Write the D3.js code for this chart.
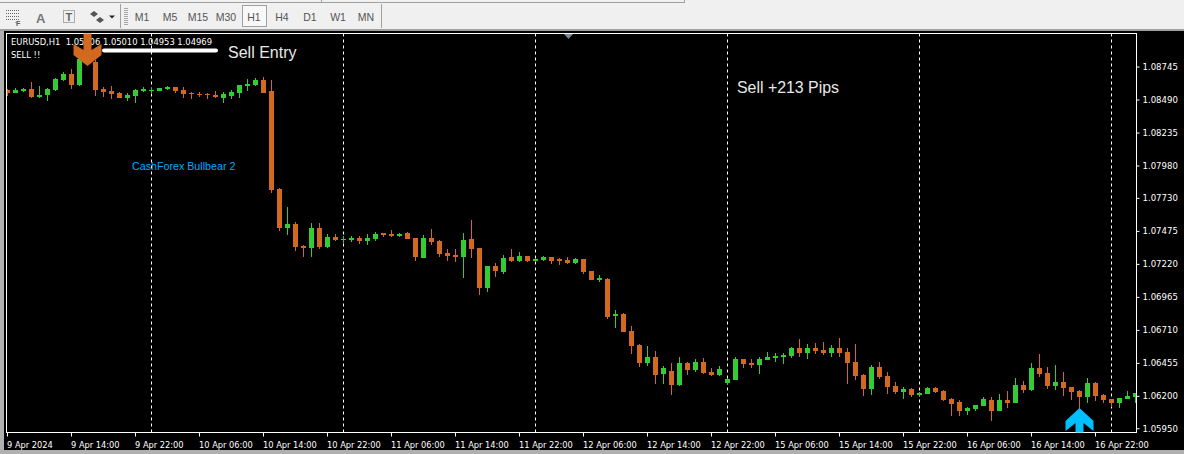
<!DOCTYPE html>
<html>
<head>
<meta charset="utf-8">
<script src="https://cdn.jsdelivr.net/npm/d3@7"></script>
<style>
  html, body { margin: 0; padding: 0; background: #f0f0f0; overflow: hidden; }
  svg { display: block; }
  text { white-space: pre; }
  .mt { font-family: "DejaVu Sans Condensed", "DejaVu Sans"; font-stretch: condensed; font-size: 9.3px; fill: #fff; }
  .axis path { display: none; }
  .axis line { stroke: #fff; }
  .axis text { font-family: "DejaVu Sans Condensed", "DejaVu Sans"; font-stretch: condensed; font-size: 9.5px; fill: #fff; }
  .xaxis text { font-size: 9.2px; }
  .tf { font-family: "Liberation Sans"; font-size: 10.5px; fill: #555; text-anchor: middle; }
</style>
</head>
<body>
<svg id="chart" width="1184" height="454"></svg>
<script>
// EURUSD H1 candles
const opens = [1.08564,1.08540,1.08556,1.08571,1.08509,1.08525,1.08564,1.08641,1.08687,1.08602,
  1.08888,1.08780,1.08571,1.08556,1.08540,1.08502,1.08517,1.08556,1.08556,1.08556,
  1.08571,1.08587,1.08564,1.08540,1.08533,1.08533,1.08525,1.08502,1.08517,1.08540,
  1.08594,1.08602,1.08641,1.08556,1.07799,1.07497,1.07528,1.07358,1.07342,1.07497,
  1.07350,1.07428,1.07404,1.07404,1.07420,1.07396,1.07412,1.07459,1.07451,1.07436,
  1.07459,1.07420,1.07265,1.07420,1.07396,1.07304,1.07288,1.07273,1.07412,1.07342,
  1.07033,1.07203,1.07157,1.07273,1.07242,1.07281,1.07242,1.07250,1.07273,1.07258,
  1.07250,1.07227,1.07258,1.07165,1.07095,1.07103,1.06817,1.06833,1.06701,1.06593,
  1.06454,1.06500,1.06369,1.06392,1.06284,1.06454,1.06400,1.06462,1.06385,1.06361,
  1.06300,1.06323,1.06485,1.06454,1.06439,1.06477,1.06493,1.06500,1.06508,1.06570,
  1.06531,1.06570,1.06555,1.06531,1.06570,1.06539,1.06462,1.06361,1.06253,1.06423,
  1.06354,1.06277,1.06230,1.06253,1.06207,1.06215,1.06261,1.06238,1.06176,1.06153,
  1.06083,1.06099,1.06122,1.06168,1.06083,1.06168,1.06145,1.06284,1.06246,1.06415,
  1.06377,1.06277,1.06307,1.06269,1.06238,1.06191,1.06300,1.06207,1.06176,1.06145,
  1.06176,1.06191];
const highs = [1.08571,1.08579,1.08579,1.08625,1.08594,1.08579,1.08656,1.08703,1.08726,1.08819,
  1.08950,1.08795,1.08587,1.08594,1.08548,1.08540,1.08571,1.08587,1.08579,1.08579,
  1.08594,1.08587,1.08587,1.08548,1.08548,1.08540,1.08556,1.08548,1.08564,1.08602,
  1.08649,1.08656,1.08664,1.08641,1.07806,1.07660,1.07544,1.07365,1.07536,1.07536,
  1.07451,1.07451,1.07436,1.07436,1.07436,1.07451,1.07467,1.07459,1.07482,1.07459,
  1.07467,1.07420,1.07443,1.07490,1.07404,1.07335,1.07335,1.07459,1.07559,1.07342,
  1.07203,1.07227,1.07288,1.07335,1.07312,1.07281,1.07265,1.07281,1.07273,1.07265,
  1.07273,1.07265,1.07258,1.07165,1.07134,1.07111,1.06864,1.06841,1.06740,1.06601,
  1.06586,1.06547,1.06431,1.06454,1.06500,1.06462,1.06485,1.06493,1.06415,1.06431,
  1.06338,1.06500,1.06485,1.06485,1.06500,1.06539,1.06531,1.06531,1.06578,1.06640,
  1.06601,1.06609,1.06617,1.06593,1.06648,1.06570,1.06601,1.06369,1.06439,1.06462,
  1.06385,1.06307,1.06269,1.06261,1.06230,1.06269,1.06269,1.06246,1.06184,1.06168,
  1.06114,1.06130,1.06191,1.06191,1.06215,1.06238,1.06338,1.06315,1.06454,1.06524,
  1.06423,1.06439,1.06385,1.06269,1.06246,1.06338,1.06307,1.06215,1.06176,1.06184,
  1.06238,1.06222];
const lows = [1.08517,1.08540,1.08548,1.08502,1.08502,1.08479,1.08556,1.08633,1.08571,1.08594,
  1.08764,1.08517,1.08509,1.08494,1.08502,1.08479,1.08463,1.08548,1.08540,1.08556,
  1.08564,1.08540,1.08502,1.08494,1.08509,1.08494,1.08502,1.08463,1.08494,1.08502,
  1.08556,1.08594,1.08540,1.07768,1.07474,1.07443,1.07319,1.07273,1.07273,1.07335,
  1.07342,1.07396,1.07381,1.07389,1.07373,1.07365,1.07396,1.07428,1.07428,1.07428,
  1.07412,1.07242,1.07265,1.07365,1.07273,1.07242,1.07234,1.07111,1.07265,1.06979,
  1.07003,1.07119,1.07142,1.07234,1.07234,1.07234,1.07234,1.07242,1.07219,1.07211,
  1.07219,1.07219,1.07142,1.07095,1.07080,1.06794,1.06724,1.06694,1.06524,1.06423,
  1.06431,1.06292,1.06292,1.06207,1.06277,1.06361,1.06385,1.06369,1.06354,1.06354,
  1.06284,1.06323,1.06415,1.06415,1.06369,1.06477,1.06462,1.06446,1.06493,1.06500,
  1.06485,1.06524,1.06516,1.06500,1.06500,1.06292,1.06323,1.06200,1.06207,1.06331,
  1.06215,1.06215,1.06176,1.06191,1.06200,1.06215,1.06222,1.06160,1.06045,1.06045,
  1.06053,1.06083,1.06122,1.06006,1.06083,1.06106,1.06145,1.06222,1.06238,1.06346,
  1.06253,1.06246,1.06200,1.06168,1.06091,1.06145,1.06160,1.06145,1.06114,1.06106,
  1.06176,1.06145];
const closes = [1.08540,1.08564,1.08571,1.08509,1.08525,1.08571,1.08649,1.08687,1.08602,1.08803,
  1.08795,1.08564,1.08548,1.08533,1.08502,1.08525,1.08564,1.08571,1.08564,1.08579,
  1.08587,1.08556,1.08533,1.08533,1.08525,1.08525,1.08509,1.08533,1.08548,1.08602,
  1.08610,1.08641,1.08540,1.07791,1.07497,1.07528,1.07350,1.07342,1.07497,1.07350,
  1.07428,1.07404,1.07412,1.07420,1.07396,1.07420,1.07451,1.07443,1.07436,1.07451,
  1.07412,1.07273,1.07420,1.07389,1.07296,1.07281,1.07273,1.07404,1.07335,1.07033,
  1.07203,1.07165,1.07265,1.07242,1.07281,1.07242,1.07258,1.07273,1.07242,1.07242,
  1.07227,1.07258,1.07157,1.07095,1.07111,1.06809,1.06833,1.06694,1.06586,1.06454,
  1.06500,1.06361,1.06415,1.06284,1.06454,1.06400,1.06462,1.06377,1.06361,1.06408,
  1.06331,1.06485,1.06446,1.06439,1.06485,1.06500,1.06508,1.06516,1.06570,1.06531,
  1.06570,1.06547,1.06531,1.06570,1.06531,1.06454,1.06354,1.06253,1.06423,1.06346,
  1.06269,1.06230,1.06253,1.06207,1.06222,1.06261,1.06230,1.06168,1.06137,1.06083,
  1.06106,1.06130,1.06176,1.06083,1.06168,1.06145,1.06284,1.06246,1.06415,1.06369,
  1.06277,1.06307,1.06261,1.06230,1.06191,1.06300,1.06200,1.06168,1.06145,1.06184,
  1.06200,1.06222];

const priceTicks = [1.08745,1.08490,1.08235,1.07980,1.07730,1.07475,1.07220,1.06965,1.06710,1.06455,1.06200,1.05950];
const timeLabels = ["9 Apr 2024","9 Apr 14:00","9 Apr 22:00","10 Apr 06:00","10 Apr 14:00","10 Apr 22:00",
  "11 Apr 06:00","11 Apr 14:00","11 Apr 22:00","12 Apr 06:00","12 Apr 14:00","12 Apr 22:00",
  "15 Apr 06:00","15 Apr 14:00","15 Apr 22:00","16 Apr 06:00","16 Apr 14:00","16 Apr 22:00"];
const timeTickBars = d3.range(0, 137, 8);
const separatorBars = [18, 42, 66, 90, 114, 138];
const timeframes = ["M1","M5","M15","M30","H1","H4","D1","W1","MN"];
const sellBar = 10, sellPrice = 1.08749;
const buyBar = 134, buyPrice = 1.06106;

const colUp = "#32cd32", colDown = "#d2691e", colBuy = "#00bfff";

const svg = d3.select("#chart");
const frame = {left: 6.5, top: 33.5, right: 1136.5, bottom: 432.5};

const x = d3.scaleLinear().domain([0, 141]).range([7.5, 1135.5]);
const y = d3.scaleLinear().domain([1.09259, 1.09259 - 0.00007727 * 454]).range([0, 454]);

// toolbar
const bar = svg.append("g");
bar.append("rect").attr("width", 1184).attr("height", 31).attr("fill", "#f0f0f0");
bar.append("rect").attr("x", 0).attr("y", 29).attr("width", 1184).attr("height", 2).attr("fill", "#a0a0a0");
bar.append("rect").attr("x", 0).attr("y", 2).attr("width", 684).attr("height", 1).attr("fill", "#a0a0a0");
bar.append("rect").attr("x", 684).attr("y", 0).attr("width", 1).attr("height", 3).attr("fill", "#a0a0a0");
bar.append("rect").attr("x", 321).attr("y", 0).attr("width", 1).attr("height", 3).attr("fill", "#a0a0a0");
[120, 381].forEach(sx => {
  bar.append("rect").attr("x", sx).attr("y", 4).attr("width", 1).attr("height", 24).attr("fill", "#a0a0a0");
});
d3.range(8, 26, 2).forEach(gy => {
  bar.append("rect").attr("x", 124).attr("y", gy).attr("width", 4).attr("height", 1).attr("fill", "#a8a8a8");
});
bar.append("rect").attr("x", 242.5).attr("y", 5.5).attr("width", 24).attr("height", 21)
  .attr("fill", "#f8f8f8").attr("stroke", "#a0a0a0");
bar.selectAll("text.tf").data(timeframes).join("text")
  .attr("class", "tf")
  .attr("x", (d, i) => 142 + i * 28)
  .attr("y", 21)
  .text(d => d);

// left toolbar icons
const icons = bar.append("g").attr("fill", "none").attr("stroke", "#666");
[10.5, 13.5, 16.5, 19.5].forEach(gy => {
  icons.append("line").attr("x1", 6).attr("x2", 20).attr("y1", gy).attr("y2", gy).attr("stroke-dasharray", "1 1");
});
icons.append("line").attr("x1", 16).attr("x2", 16).attr("y1", 22).attr("y2", 23).attr("stroke", "#666");
icons.append("rect").attr("x", 63.5).attr("y", 10.5).attr("width", 11).attr("height", 12).attr("stroke-dasharray", "1 1");
bar.append("text").attr("x", 16).attr("y", 26).attr("font-family", "Liberation Sans").attr("font-size", 7).attr("font-weight", "bold").attr("fill", "#555").text("F");
bar.append("text").attr("x", 36).attr("y", 22.5).attr("font-family", "Liberation Sans").attr("font-size", 13).attr("font-weight", "bold").attr("fill", "#777").text("A");
bar.append("text").attr("x", 65.5).attr("y", 21).attr("font-family", "Liberation Sans").attr("font-size", 11).attr("font-weight", "bold").attr("fill", "#666").text("T");
bar.append("path").attr("d", "M90 14l4-3 4 3-4 3zM96 20l4-3 4 3-4 3z").attr("fill", "#555");
bar.append("path").attr("d", "M109 15.5h6l-3 3z").attr("fill", "#222");

// chart background
svg.append("rect").attr("x", 0).attr("y", 31).attr("width", 1184).attr("height", 423).attr("fill", "#b0b0b0");
svg.append("rect").attr("x", 4).attr("y", 31).attr("width", 1180).attr("height", 419).attr("fill", "#000");

svg.append("defs").append("clipPath").attr("id", "plot").append("rect")
  .attr("x", frame.left).attr("y", frame.top)
  .attr("width", frame.right - frame.left).attr("height", frame.bottom - frame.top);

const plot = svg.append("g").attr("clip-path", "url(#plot)");

// period separators
plot.selectAll("line.sep").data(separatorBars).join("line")
  .attr("class", "sep")
  .attr("x1", d => x(d)).attr("x2", d => x(d))
  .attr("y1", frame.top).attr("y2", frame.bottom)
  .attr("stroke", "#fff").attr("stroke-dasharray", "3 3");

// candles
const bars = d3.range(opens.length);
const colOf = i => closes[i] >= opens[i] ? colUp : colDown;
plot.append("g").attr("shape-rendering", "crispEdges").selectAll("rect").data(bars).join("rect")
  .attr("x", i => x(i) - 0.5)
  .attr("width", 1)
  .attr("y", i => Math.round(y(highs[i])))
  .attr("height", i => Math.round(y(lows[i])) - Math.round(y(highs[i])))
  .attr("fill", colOf);
plot.append("g").attr("shape-rendering", "crispEdges").selectAll("rect").data(bars).join("rect")
  .attr("x", i => x(i) - 2.5)
  .attr("width", 5)
  .attr("y", i => Math.round(y(Math.max(opens[i], closes[i]))))
  .attr("height", i => Math.max(1, Math.round(y(Math.min(opens[i], closes[i]))) - Math.round(y(Math.max(opens[i], closes[i])))))
  .attr("fill", colOf);

// frame
svg.append("rect")
  .attr("x", frame.left).attr("y", frame.top)
  .attr("width", frame.right - frame.left).attr("height", frame.bottom - frame.top)
  .attr("fill", "none").attr("stroke", "#fff");

// little marker on the top edge
svg.append("path").attr("d", "M564 34h9l-4.5 5z").attr("fill", "#778899");

// axes
const yAxis = d3.axisRight(y).tickValues(priceTicks).tickSize(3).tickPadding(3).tickFormat(d3.format(".5f"));
svg.append("g").attr("class", "axis").attr("transform", `translate(${frame.right},0)`).call(yAxis);

const xAxis = d3.axisBottom(x).tickValues(timeTickBars).tickSize(4).tickPadding(5)
  .tickFormat((d, i) => timeLabels[i]);
const xg = svg.append("g").attr("class", "axis xaxis").attr("transform", `translate(-0.5,${frame.bottom})`).call(xAxis);
xg.selectAll("text").attr("text-anchor", "start").attr("dx", "-0.5");

// labels on the chart
svg.append("text").attr("class", "mt").attr("x", 11).attr("y", 45).text("EURUSD,H1  1.05006 1.05010 1.04953 1.04969");
svg.append("text").attr("class", "mt").attr("x", 11).attr("y", 57.5).text("SELL !!");
svg.append("text").attr("x", 132).attr("y", 169.5).attr("font-family", "Liberation Sans").attr("font-size", 10.7)
  .attr("fill", "#00aaff").text("CashForex Bullbear 2");
svg.append("text").attr("x", 228).attr("y", 58).attr("font-family", "Liberation Sans").attr("font-size", 16)
  .attr("fill", "#e8e8e8").text("Sell Entry");
svg.append("text").attr("x", 737).attr("y", 93).attr("font-family", "Liberation Sans").attr("font-size", 15.9)
  .attr("fill", "#e8e8e8").text("Sell +213 Pips");

// sell entry line
svg.append("line").attr("x1", x(12) + 0.5).attr("x2", x(26) + 0.5).attr("y1", 50.5).attr("y2", 50.5)
  .attr("stroke", "#fff").attr("stroke-width", 4).attr("stroke-linecap", "round");

// sell and buy arrows
const sx = x(sellBar), sy = y(sellPrice);
svg.append("path").attr("fill", colDown)
  .attr("d", `M${sx - 4} ${frame.top}H${sx + 4}V${sy - 16}L${sx + 14} ${sy - 22}V${sy - 11}L${sx} ${sy}L${sx - 14} ${sy - 11}V${sy - 22}L${sx - 4} ${sy - 16}Z`);
const bx = x(buyBar), by = y(buyPrice);
svg.append("path").attr("fill", colBuy)
  .attr("d", `M${bx - 4} ${frame.bottom}V${by + 15}L${bx - 14} ${by + 23}V${by + 13}L${bx} ${by}L${bx + 14} ${by + 13}V${by + 23}L${bx + 4} ${by + 15}V${frame.bottom}Z`);
</script>
</body>
</html>
